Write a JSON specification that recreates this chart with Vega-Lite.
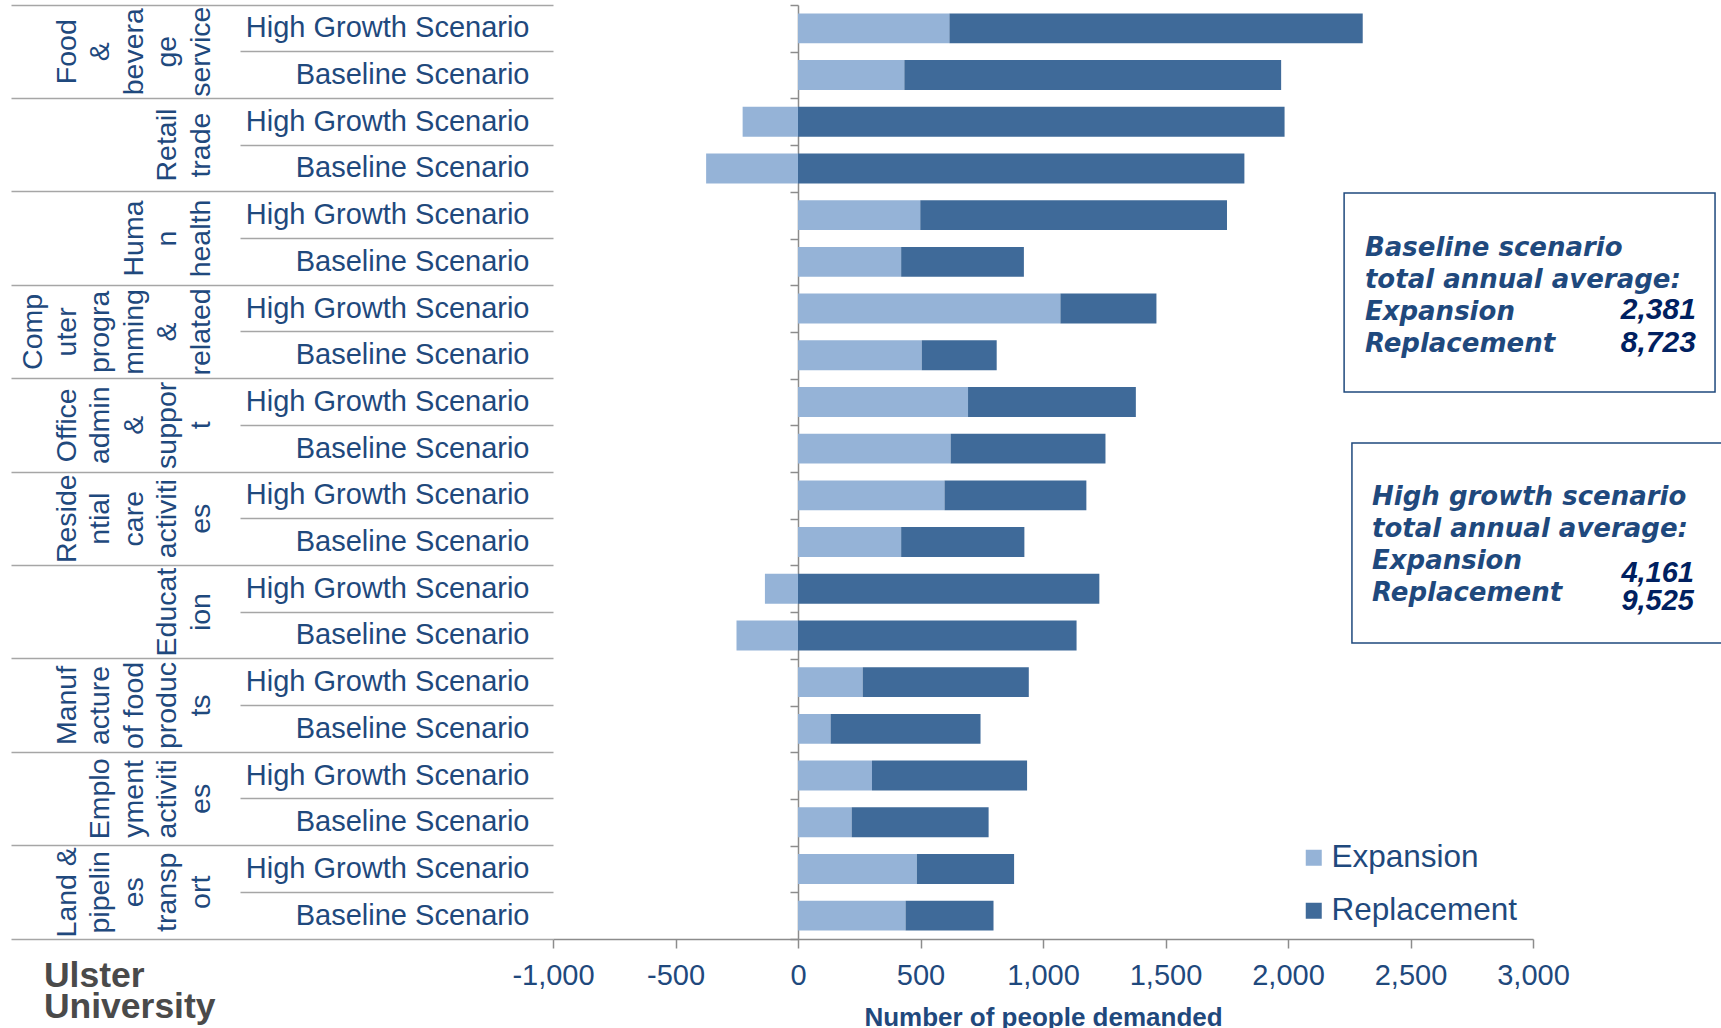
{
  "$schema": "https://vega.github.io/schema/vega-lite/v6.json",
  "width": 980,
  "height": 934,
  "autosize": {"type": "none"},
  "padding": {"left": 553, "top": 5, "right": 188, "bottom": 89},
  "background": "white",
  "config": {"font": "Liberation Sans", "view": {"stroke": null}, "axis": {"grid": false}},
  "data": {"values": [
    {"row": "Food & beverage service|High Growth Scenario", "sector": "Food & beverage service", "scenario": "High Growth Scenario", "type": "Expansion", "value": 618},
    {"row": "Food & beverage service|High Growth Scenario", "sector": "Food & beverage service", "scenario": "High Growth Scenario", "type": "Replacement", "value": 1687},
    {"row": "Food & beverage service|Baseline Scenario", "sector": "Food & beverage service", "scenario": "Baseline Scenario", "type": "Expansion", "value": 434},
    {"row": "Food & beverage service|Baseline Scenario", "sector": "Food & beverage service", "scenario": "Baseline Scenario", "type": "Replacement", "value": 1538},
    {"row": "Retail trade|High Growth Scenario", "sector": "Retail trade", "scenario": "High Growth Scenario", "type": "Expansion", "value": -226},
    {"row": "Retail trade|High Growth Scenario", "sector": "Retail trade", "scenario": "High Growth Scenario", "type": "Replacement", "value": 1986},
    {"row": "Retail trade|Baseline Scenario", "sector": "Retail trade", "scenario": "Baseline Scenario", "type": "Expansion", "value": -375},
    {"row": "Retail trade|Baseline Scenario", "sector": "Retail trade", "scenario": "Baseline Scenario", "type": "Replacement", "value": 1822},
    {"row": "Human health|High Growth Scenario", "sector": "Human health", "scenario": "High Growth Scenario", "type": "Expansion", "value": 499},
    {"row": "Human health|High Growth Scenario", "sector": "Human health", "scenario": "High Growth Scenario", "type": "Replacement", "value": 1252},
    {"row": "Human health|Baseline Scenario", "sector": "Human health", "scenario": "Baseline Scenario", "type": "Expansion", "value": 421},
    {"row": "Human health|Baseline Scenario", "sector": "Human health", "scenario": "Baseline Scenario", "type": "Replacement", "value": 501},
    {"row": "Computer programming & related|High Growth Scenario", "sector": "Computer programming & related", "scenario": "High Growth Scenario", "type": "Expansion", "value": 1071},
    {"row": "Computer programming & related|High Growth Scenario", "sector": "Computer programming & related", "scenario": "High Growth Scenario", "type": "Replacement", "value": 392},
    {"row": "Computer programming & related|Baseline Scenario", "sector": "Computer programming & related", "scenario": "Baseline Scenario", "type": "Expansion", "value": 505},
    {"row": "Computer programming & related|Baseline Scenario", "sector": "Computer programming & related", "scenario": "Baseline Scenario", "type": "Replacement", "value": 306},
    {"row": "Office admin & support|High Growth Scenario", "sector": "Office admin & support", "scenario": "High Growth Scenario", "type": "Expansion", "value": 694},
    {"row": "Office admin & support|High Growth Scenario", "sector": "Office admin & support", "scenario": "High Growth Scenario", "type": "Replacement", "value": 685},
    {"row": "Office admin & support|Baseline Scenario", "sector": "Office admin & support", "scenario": "Baseline Scenario", "type": "Expansion", "value": 623},
    {"row": "Office admin & support|Baseline Scenario", "sector": "Office admin & support", "scenario": "Baseline Scenario", "type": "Replacement", "value": 632},
    {"row": "Residential care activities|High Growth Scenario", "sector": "Residential care activities", "scenario": "High Growth Scenario", "type": "Expansion", "value": 598},
    {"row": "Residential care activities|High Growth Scenario", "sector": "Residential care activities", "scenario": "High Growth Scenario", "type": "Replacement", "value": 579},
    {"row": "Residential care activities|Baseline Scenario", "sector": "Residential care activities", "scenario": "Baseline Scenario", "type": "Expansion", "value": 421},
    {"row": "Residential care activities|Baseline Scenario", "sector": "Residential care activities", "scenario": "Baseline Scenario", "type": "Replacement", "value": 503},
    {"row": "Education|High Growth Scenario", "sector": "Education", "scenario": "High Growth Scenario", "type": "Expansion", "value": -135},
    {"row": "Education|High Growth Scenario", "sector": "Education", "scenario": "High Growth Scenario", "type": "Replacement", "value": 1230},
    {"row": "Education|Baseline Scenario", "sector": "Education", "scenario": "Baseline Scenario", "type": "Expansion", "value": -251},
    {"row": "Education|Baseline Scenario", "sector": "Education", "scenario": "Baseline Scenario", "type": "Replacement", "value": 1137},
    {"row": "Manufacture of food products|High Growth Scenario", "sector": "Manufacture of food products", "scenario": "High Growth Scenario", "type": "Expansion", "value": 264},
    {"row": "Manufacture of food products|High Growth Scenario", "sector": "Manufacture of food products", "scenario": "High Growth Scenario", "type": "Replacement", "value": 678},
    {"row": "Manufacture of food products|Baseline Scenario", "sector": "Manufacture of food products", "scenario": "Baseline Scenario", "type": "Expansion", "value": 133},
    {"row": "Manufacture of food products|Baseline Scenario", "sector": "Manufacture of food products", "scenario": "Baseline Scenario", "type": "Replacement", "value": 612},
    {"row": "Employment activities|High Growth Scenario", "sector": "Employment activities", "scenario": "High Growth Scenario", "type": "Expansion", "value": 302},
    {"row": "Employment activities|High Growth Scenario", "sector": "Employment activities", "scenario": "High Growth Scenario", "type": "Replacement", "value": 633},
    {"row": "Employment activities|Baseline Scenario", "sector": "Employment activities", "scenario": "Baseline Scenario", "type": "Expansion", "value": 219},
    {"row": "Employment activities|Baseline Scenario", "sector": "Employment activities", "scenario": "Baseline Scenario", "type": "Replacement", "value": 559},
    {"row": "Land & pipelines transport|High Growth Scenario", "sector": "Land & pipelines transport", "scenario": "High Growth Scenario", "type": "Expansion", "value": 485},
    {"row": "Land & pipelines transport|High Growth Scenario", "sector": "Land & pipelines transport", "scenario": "High Growth Scenario", "type": "Replacement", "value": 397},
    {"row": "Land & pipelines transport|Baseline Scenario", "sector": "Land & pipelines transport", "scenario": "Baseline Scenario", "type": "Expansion", "value": 439},
    {"row": "Land & pipelines transport|Baseline Scenario", "sector": "Land & pipelines transport", "scenario": "Baseline Scenario", "type": "Replacement", "value": 359}
  ]},
  "resolve": {"scale": {"x": "independent", "y": "independent"}, "axis": {"x": "independent", "y": "independent"}},
  "layer": [
    {
      "resolve": {"axis": {"y": "independent"}},
      "layer": [
        {
          "mark": {"type": "bar", "height": {"band": 0.64}},
          "encoding": {
            "y": {"field": "row", "type": "nominal", "sort": null,
              "scale": {"type": "band", "paddingInner": 0, "paddingOuter": 0, "domain": ["Food & beverage service|High Growth Scenario","Food & beverage service|Baseline Scenario","Retail trade|High Growth Scenario","Retail trade|Baseline Scenario","Human health|High Growth Scenario","Human health|Baseline Scenario","Computer programming & related|High Growth Scenario","Computer programming & related|Baseline Scenario","Office admin & support|High Growth Scenario","Office admin & support|Baseline Scenario","Residential care activities|High Growth Scenario","Residential care activities|Baseline Scenario","Education|High Growth Scenario","Education|Baseline Scenario","Manufacture of food products|High Growth Scenario","Manufacture of food products|Baseline Scenario","Employment activities|High Growth Scenario","Employment activities|Baseline Scenario","Land & pipelines transport|High Growth Scenario","Land & pipelines transport|Baseline Scenario"]},
              "axis": {"orient": "left", "offset": -245, "domain": true, "domainColor": "#8c8c8c", "domainWidth": 1.5, "ticks": true, "tickBand": "extent", "tickSize": 8, "tickColor": "#8c8c8c", "tickWidth": 1.5, "labels": false, "grid": false, "title": null}},
            "x": {"field": "value", "type": "quantitative", "stack": "zero",
              "scale": {"domain": [-1000, 3000], "nice": false, "zero": false},
              "axis": {"orient": "bottom", "values": [-1000, -500, 0, 500, 1000, 1500, 2000, 2500, 3000], "labelExpr": "replace(format(datum.value, ','), '\u2212', '-')", "labelFontSize": 29, "labelColor": "#1F497D", "labelPadding": 13, "labelFlush": false, "labelOverlap": false, "tickSize": 9, "tickColor": "#8c8c8c", "tickWidth": 1.5, "domainColor": "#8c8c8c", "domainWidth": 1.5, "grid": false, "title": "Number of people demanded", "titleFontSize": 26, "titleFontWeight": "bold", "titleColor": "#1F497D", "titlePadding": 14}},
            "color": {"field": "type", "type": "nominal",
              "scale": {"domain": ["Expansion", "Replacement"], "range": ["#95B3D7", "#3F6A99"]},
              "legend": {"orient": "none", "legendX": 745, "legendY": 837, "title": null, "direction": "vertical", "symbolType": "square", "symbolSize": 256, "symbolStrokeWidth": 0, "symbolOpacity": 1, "labelFontSize": 31.5, "labelColor": "#1F497D", "labelOffset": 2, "rowPadding": 20, "padding": 0, "labelLimit": 0}},
            "order": {"field": "type"}
          }
        },
        {
          "mark": {"type": "bar", "opacity": 0},
          "encoding": {
            "y": {"field": "row", "type": "nominal", "sort": null,
              "axis": {"orient": "left", "domain": false, "ticks": false, "tickSize": 0, "labels": true, "labelPadding": 24, "labelFontSize": 29, "labelColor": "#1F497D", "labelLimit": 0, "labelAlign": "right", "labelBaseline": "middle", "labelExpr": "split(datum.label, '|')[1]", "title": null, "grid": false}}
          }
        },
        {
          "mark": {"type": "bar", "opacity": 0},
          "encoding": {
            "y": {"field": "row", "type": "nominal", "sort": null,
              "axis": {"orient": "left", "values": ["Food & beverage service|High Growth Scenario","Retail trade|High Growth Scenario","Human health|High Growth Scenario","Computer programming & related|High Growth Scenario","Office admin & support|High Growth Scenario","Residential care activities|High Growth Scenario","Education|High Growth Scenario","Manufacture of food products|High Growth Scenario","Employment activities|High Growth Scenario","Land & pipelines transport|High Growth Scenario"],
                "bandPosition": 1, "domain": false, "ticks": true, "tickSize": 313, "tickColor": "#a6a6a6", "tickWidth": 1.5, "labels": false, "title": null, "grid": false}}
          }
        },
        {
          "mark": {"type": "bar", "opacity": 0},
          "encoding": {
            "y": {"field": "row", "type": "nominal", "sort": null,
              "axis": {"orient": "left", "values": ["Food & beverage service|High Growth Scenario","Retail trade|High Growth Scenario","Human health|High Growth Scenario","Computer programming & related|High Growth Scenario","Office admin & support|High Growth Scenario","Residential care activities|High Growth Scenario","Education|High Growth Scenario","Manufacture of food products|High Growth Scenario","Employment activities|High Growth Scenario","Land & pipelines transport|High Growth Scenario"],
                "bandPosition": 0, "domain": false, "ticks": true, "tickSize": 542, "tickColor": "#a6a6a6", "tickWidth": 1.5, "labels": false, "title": null, "grid": false}}
          }
        },
        {
          "mark": {"type": "bar", "opacity": 0},
          "encoding": {
            "y": {"field": "row", "type": "nominal", "sort": null,
              "axis": {"orient": "left", "values": ["Land & pipelines transport|Baseline Scenario"],
                "bandPosition": 1, "domain": false, "ticks": true, "tickSize": 542, "tickColor": "#a6a6a6", "tickWidth": 1.5, "labels": false, "title": null, "grid": false}}
          }
        },
        {
          "mark": {"type": "bar", "opacity": 0},
          "encoding": {
            "y": {"field": "row", "type": "nominal", "sort": null,
              "axis": {"orient": "left", "values": ["Computer programming & related|High Growth Scenario"],
                "domain": false, "ticks": false, "tickSize": 0, "labels": true, "labelAngle": 270, "labelAlign": "center", "labelBaseline": "alphabetic", "labelPadding": 511.5, "labelOffset": 23.35, "labelFontSize": 28.5, "labelLineHeight": 33.6, "labelColor": "#1F497D", "labelLimit": 0,
                "labelExpr": "({'Food & beverage service':['Food','&','bevera','ge','service'],'Retail trade':['Retail','trade'],'Human health':['Huma','n','health'],'Computer programming & related':['Comp','uter','progra','mming','&','related'],'Office admin & support':['Office','admin','&','suppor','t'],'Residential care activities':['Reside','ntial','care','activiti','es'],'Education':['Educat','ion'],'Manufacture of food products':['Manuf','acture','of food','produc','ts'],'Employment activities':['Emplo','yment','activiti','es'],'Land & pipelines transport':['Land &','pipelin','es','transp','ort']})[split(datum.label, '|')[0]]",
                "title": null, "grid": false}}
          }
        },
        {
          "mark": {"type": "bar", "opacity": 0},
          "encoding": {
            "y": {"field": "row", "type": "nominal", "sort": null,
              "axis": {"orient": "left", "values": ["Food & beverage service|High Growth Scenario","Office admin & support|High Growth Scenario","Residential care activities|High Growth Scenario","Manufacture of food products|High Growth Scenario","Land & pipelines transport|High Growth Scenario"],
                "domain": false, "ticks": false, "tickSize": 0, "labels": true, "labelAngle": 270, "labelAlign": "center", "labelBaseline": "alphabetic", "labelPadding": 477.9, "labelOffset": 23.35, "labelFontSize": 28.5, "labelLineHeight": 33.6, "labelColor": "#1F497D", "labelLimit": 0,
                "labelExpr": "({'Food & beverage service':['Food','&','bevera','ge','service'],'Retail trade':['Retail','trade'],'Human health':['Huma','n','health'],'Computer programming & related':['Comp','uter','progra','mming','&','related'],'Office admin & support':['Office','admin','&','suppor','t'],'Residential care activities':['Reside','ntial','care','activiti','es'],'Education':['Educat','ion'],'Manufacture of food products':['Manuf','acture','of food','produc','ts'],'Employment activities':['Emplo','yment','activiti','es'],'Land & pipelines transport':['Land &','pipelin','es','transp','ort']})[split(datum.label, '|')[0]]",
                "title": null, "grid": false}}
          }
        },
        {
          "mark": {"type": "bar", "opacity": 0},
          "encoding": {
            "y": {"field": "row", "type": "nominal", "sort": null,
              "axis": {"orient": "left", "values": ["Employment activities|High Growth Scenario"],
                "domain": false, "ticks": false, "tickSize": 0, "labels": true, "labelAngle": 270, "labelAlign": "center", "labelBaseline": "alphabetic", "labelPadding": 444.3, "labelOffset": 23.35, "labelFontSize": 28.5, "labelLineHeight": 33.6, "labelColor": "#1F497D", "labelLimit": 0,
                "labelExpr": "({'Food & beverage service':['Food','&','bevera','ge','service'],'Retail trade':['Retail','trade'],'Human health':['Huma','n','health'],'Computer programming & related':['Comp','uter','progra','mming','&','related'],'Office admin & support':['Office','admin','&','suppor','t'],'Residential care activities':['Reside','ntial','care','activiti','es'],'Education':['Educat','ion'],'Manufacture of food products':['Manuf','acture','of food','produc','ts'],'Employment activities':['Emplo','yment','activiti','es'],'Land & pipelines transport':['Land &','pipelin','es','transp','ort']})[split(datum.label, '|')[0]]",
                "title": null, "grid": false}}
          }
        },
        {
          "mark": {"type": "bar", "opacity": 0},
          "encoding": {
            "y": {"field": "row", "type": "nominal", "sort": null,
              "axis": {"orient": "left", "values": ["Human health|High Growth Scenario"],
                "domain": false, "ticks": false, "tickSize": 0, "labels": true, "labelAngle": 270, "labelAlign": "center", "labelBaseline": "alphabetic", "labelPadding": 410.7, "labelOffset": 23.35, "labelFontSize": 28.5, "labelLineHeight": 33.6, "labelColor": "#1F497D", "labelLimit": 0,
                "labelExpr": "({'Food & beverage service':['Food','&','bevera','ge','service'],'Retail trade':['Retail','trade'],'Human health':['Huma','n','health'],'Computer programming & related':['Comp','uter','progra','mming','&','related'],'Office admin & support':['Office','admin','&','suppor','t'],'Residential care activities':['Reside','ntial','care','activiti','es'],'Education':['Educat','ion'],'Manufacture of food products':['Manuf','acture','of food','produc','ts'],'Employment activities':['Emplo','yment','activiti','es'],'Land & pipelines transport':['Land &','pipelin','es','transp','ort']})[split(datum.label, '|')[0]]",
                "title": null, "grid": false}}
          }
        },
        {
          "mark": {"type": "bar", "opacity": 0},
          "encoding": {
            "y": {"field": "row", "type": "nominal", "sort": null,
              "axis": {"orient": "left", "values": ["Retail trade|High Growth Scenario","Education|High Growth Scenario"],
                "domain": false, "ticks": false, "tickSize": 0, "labels": true, "labelAngle": 270, "labelAlign": "center", "labelBaseline": "alphabetic", "labelPadding": 377.1, "labelOffset": 23.35, "labelFontSize": 28.5, "labelLineHeight": 33.6, "labelColor": "#1F497D", "labelLimit": 0,
                "labelExpr": "({'Food & beverage service':['Food','&','bevera','ge','service'],'Retail trade':['Retail','trade'],'Human health':['Huma','n','health'],'Computer programming & related':['Comp','uter','progra','mming','&','related'],'Office admin & support':['Office','admin','&','suppor','t'],'Residential care activities':['Reside','ntial','care','activiti','es'],'Education':['Educat','ion'],'Manufacture of food products':['Manuf','acture','of food','produc','ts'],'Employment activities':['Emplo','yment','activiti','es'],'Land & pipelines transport':['Land &','pipelin','es','transp','ort']})[split(datum.label, '|')[0]]",
                "title": null, "grid": false}}
          }
        }
      ]
    },
    {
      "data": {"values": [{}]},
      "layer": [
        {
          "mark": {"type": "rect", "filled": false, "stroke": "#1F497D", "strokeWidth": 1.5},
          "encoding": {
            "x": {"datum": 2229, "type": "quantitative", "scale": {"domain": [-1000, 3000], "nice": false, "zero": false}, "axis": null},
            "x2": {"datum": 3743},
            "y": {"datum": 4.026, "type": "quantitative", "scale": {"domain": [0, 20], "reverse": true, "nice": false, "zero": false}, "axis": null},
            "y2": {"datum": 8.287}
          }
        },
        {
          "mark": {"type": "rect", "filled": false, "stroke": "#1F497D", "strokeWidth": 1.5},
          "encoding": {
            "x": {"datum": 2261, "type": "quantitative", "axis": null},
            "x2": {"datum": 3804},
            "y": {"datum": 9.379, "type": "quantitative", "axis": null},
            "y2": {"datum": 13.66}
          }
        },
        {
          "mark": {"type": "text", "text": ["Baseline scenario", "total annual average:", "Expansion", "Replacement"], "align": "left", "baseline": "alphabetic", "font": "DejaVu Sans", "fontWeight": "bold", "fontStyle": "italic", "fontSize": 26, "lineHeight": 32, "fill": "#1F497D"},
          "encoding": {
            "x": {"datum": 2314, "type": "quantitative", "axis": null},
            "y": {"datum": 5.375, "type": "quantitative", "axis": null}
          }
        },
        {
          "mark": {"type": "text", "text": ["2,381", "8,723"], "align": "right", "baseline": "alphabetic", "font": "Liberation Sans", "fontWeight": "bold", "fontStyle": "italic", "fontSize": 30, "lineHeight": 33, "fill": "#002060"},
          "encoding": {
            "x": {"datum": 3665, "type": "quantitative", "axis": null},
            "y": {"datum": 6.724, "type": "quantitative", "axis": null}
          }
        },
        {
          "mark": {"type": "text", "text": ["High growth scenario", "total annual average:", "Expansion", "Replacement"], "align": "left", "baseline": "alphabetic", "font": "DejaVu Sans", "fontWeight": "bold", "fontStyle": "italic", "fontSize": 26, "lineHeight": 32, "fill": "#1F497D"},
          "encoding": {
            "x": {"datum": 2343, "type": "quantitative", "axis": null},
            "y": {"datum": 10.707, "type": "quantitative", "axis": null}
          }
        },
        {
          "mark": {"type": "text", "text": ["4,161", "9,525"], "align": "right", "baseline": "alphabetic", "font": "Liberation Sans", "fontWeight": "bold", "fontStyle": "italic", "fontSize": 29, "lineHeight": 28, "fill": "#002060"},
          "encoding": {
            "x": {"datum": 3657, "type": "quantitative", "axis": null},
            "y": {"datum": 12.355, "type": "quantitative", "axis": null}
          }
        },
        {
          "mark": {"type": "text", "text": ["Ulster", "University"], "align": "left", "baseline": "alphabetic", "font": "Liberation Sans", "fontWeight": "bold", "fontSize": 35.5, "lineHeight": 31, "fill": "#4a4a4a"},
          "encoding": {
            "x": {"datum": -3078, "type": "quantitative", "axis": null},
            "y": {"datum": 21.03, "type": "quantitative", "axis": null}
          }
        }
      ]
    }
  ]
}
